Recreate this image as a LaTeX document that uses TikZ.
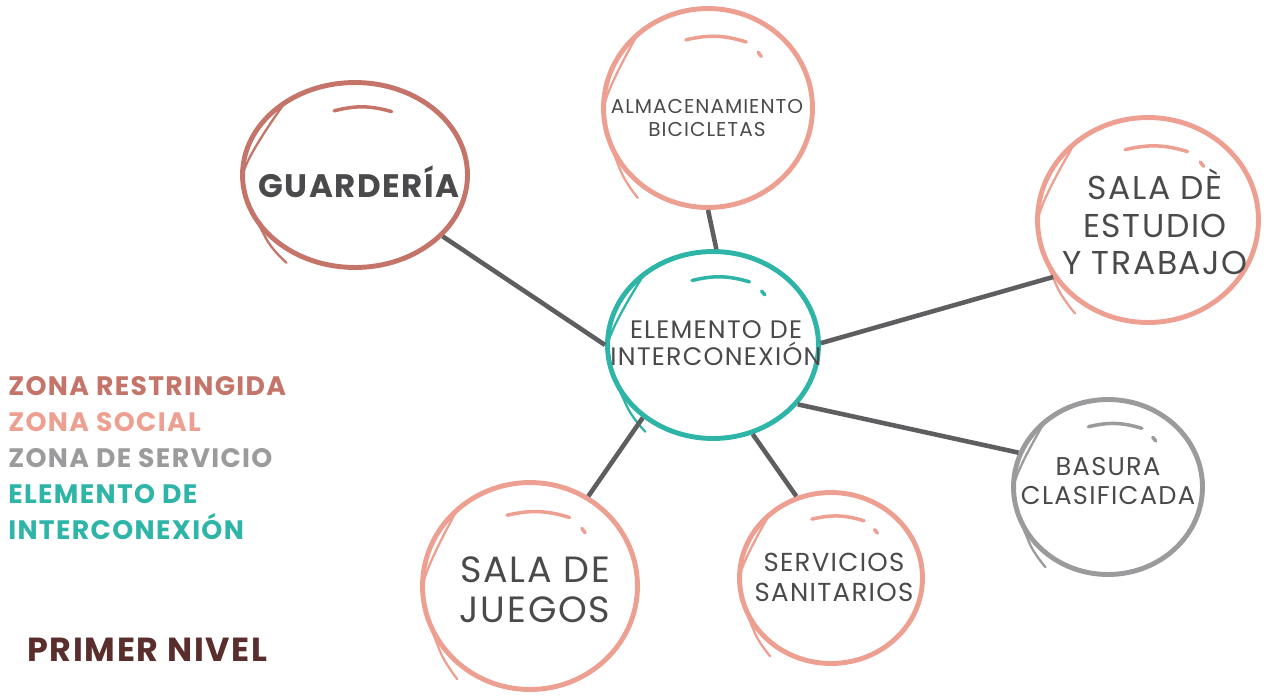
\documentclass[tikz,border=0pt]{standalone}
\usepackage{fontspec}
\setmainfont{Poppins}[LetterSpace=5]
\usetikzlibrary{shapes.geometric,calc}

\definecolor{restr}{HTML}{C47468}
\definecolor{social}{HTML}{EDA091}
\definecolor{servc}{HTML}{9B9B9D}
\definecolor{inter}{HTML}{2EB5A7}
\definecolor{nivel}{HTML}{5A2E2C}
\definecolor{txtgray}{HTML}{4A4A4C}
\definecolor{linkgray}{HTML}{5E5E61}

\tikzset{
  zone/.style={ellipse, draw=#1, line width=2.8pt, inner sep=0pt},
  ztext/.style={align=center, text=txtgray, inner sep=0pt},
  link/.style={draw=linkgray, line width=2.6pt},
  shine/.style={line width=2pt, line cap=round},
  legend/.style={anchor=base west, inner sep=0pt, align=left, font=\fontsize{15.2}{20.4}\selectfont\bfseries},
}

\begin{document}
\begin{tikzpicture}[x=0.02cm, y=-0.02cm]
  \useasboundingbox (0,0) rectangle (1267,697);

  % zones
  \node[zone=restr, minimum width=4.5cm, minimum height=3.7cm] (guard) at (355,175) {};
  \node[zone=social, minimum width=4.18cm, minimum height=3.98cm] (alm) at (708,108) {};
  \node[zone=inter, minimum width=4.22cm, minimum height=3.74cm] (elem) at (713,345) {};
  \node[zone=social, minimum width=4.42cm, minimum height=4.1cm] (est) at (1148,220) {};
  \node[zone=servc, minimum width=3.78cm, minimum height=3.5cm] (bas) at (1108,487) {};
  \node[zone=social, minimum width=3.66cm, minimum height=3.42cm] (serv) at (831,578) {};
  \node[zone=social, minimum width=4.3cm, minimum height=4.14cm] (jue) at (530,586) {};

  % zone names
  \node[ztext, font=\fontsize{18.5}{22}\selectfont\bfseries] (guard-t) at (359,182) {GUARDERÍA};
  \node[ztext, font=\fontsize{11.4}{13}\selectfont] (alm-t) at (707,118) {ALMACENAMIENTO\\BICICLETAS};
  \node[ztext, font=\fontsize{14.4}{15.3}\selectfont] (elem-t) at (716,343) {ELEMENTO DE\\INTERCONEXIÓN};
  \node[ztext, font=\fontsize{18.8}{21.3}\selectfont] (est-t) at (1155,222) {SALA DÈ\\ESTUDIO\\Y TRABAJO};
  \node[ztext, font=\fontsize{14.6}{16.6}\selectfont] (bas-t) at (1108,481) {BASURA\\CLASIFICADA};
  \node[ztext, font=\fontsize{14.8}{17}\selectfont] (serv-t) at (834,577) {SERVICIOS\\SANITARIOS};
  \node[ztext, font=\fontsize{20.8}{22.7}\selectfont] (jue-t) at (535,590) {SALA DE\\JUEGOS};

  % sketch strokes and highlights
  \foreach \n/\c in {guard/restr, alm/social, elem/inter, est/social, bas/servc, serv/social, jue/social} {
    \draw[\c, line width=1.3pt, line cap=round] plot[smooth] coordinates
      {($(\n.center)!0.97!(\n.135)$) ($(\n.center)!0.975!(\n.180)$)
       ($(\n.center)!1.02!(\n.215)$) ($(\n.center)!1.1!(\n.232)$)};
    \draw[\c, shine] ($(\n.center)!0.7!(\n.108)$) to[bend left=15] ($(\n.center)!0.74!(\n.60)$);
  }
  \foreach \n/\c in {alm/social, elem/inter, est/social, bas/servc, serv/social, jue/social}
    \draw[\c, shine] ($(\n.center)!0.72!(\n.48)$) -- ($(\n.center)!0.71!(\n.44)$);

  % connectors
  \draw[link] (guard.-35) -- (elem.180);
  \draw[link] (alm.-90) -- (elem.88);
  \draw[link] (elem.1) -- (est.211);
  \draw[link] (elem.-35) -- (bas.159);
  \draw[link] (elem.-66) -- (serv.113);
  \draw[link] (elem.226) -- (jue.57);

  % legend
  \node[legend, text=restr] (lrestr) at (8,395) {ZONA RESTRINGIDA};
  \node[legend, text=social] (lsocial) at (8,431) {ZONA SOCIAL};
  \node[legend, text=servc] (lserv) at (8,467) {ZONA DE SERVICIO};
  \node[legend, text=inter] (linter) at (8,539) {ELEMENTO DE\\INTERCONEXIÓN};
  \node[legend, text=nivel, font=\fontsize{19}{20}\selectfont\bfseries] (nivel) at (27,661) {PRIMER NIVEL};
\end{tikzpicture}
\end{document}
